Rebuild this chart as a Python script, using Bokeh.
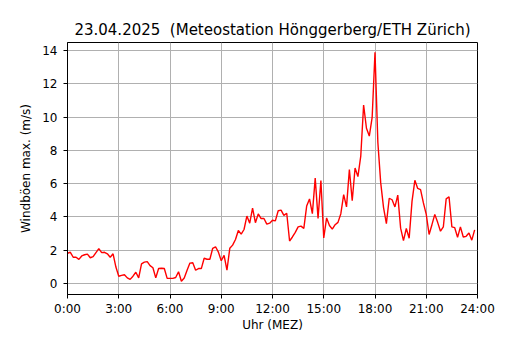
from bokeh.plotting import figure
from bokeh.models import Range1d, FixedTicker
from bokeh.embed import file_html
from bokeh.resources import INLINE

title_text = "23.04.2025\u00a0 (Meteostation Hönggerberg/ETH Zürich)"
x_label = "Uhr (MEZ)"
y_label = "Windböen max. (m/s)"

# 10-minute gust maxima (m/s), 00:00 .. 23:50
gusts = [
    1.81, 1.87, 1.57, 1.57, 1.44, 1.65, 1.72, 1.76, 1.54, 1.61, 1.85, 2.09,
    1.85, 1.87, 1.78, 1.57, 1.78, 0.98, 0.43, 0.48, 0.52, 0.33, 0.24, 0.43,
    0.67, 0.33, 1.17, 1.28, 1.31, 1.07, 0.94, 0.33, 0.89, 0.91, 0.89, 0.30,
    0.30, 0.30, 0.35, 0.70, 0.13, 0.32, 0.79, 1.22, 1.24, 0.79, 0.89, 0.89,
    1.51, 1.45, 1.45, 2.11, 2.20, 1.88, 1.36, 1.68, 0.79, 2.11, 2.30, 2.64,
    3.18, 2.96, 3.24, 4.05, 3.62, 4.52, 3.65, 4.18, 3.90, 3.90, 3.56, 3.62,
    3.80, 3.76, 4.37, 4.41, 4.09, 4.22, 2.55, 2.79, 3.07, 3.40, 3.44, 3.31,
    4.65, 5.08, 4.19, 6.33, 3.91, 6.18, 2.73, 3.94, 3.48, 3.26, 3.53, 3.67,
    4.19, 5.34, 4.60, 6.85, 4.97, 6.94, 6.42, 7.65, 10.73, 9.33, 8.86, 9.98,
    13.90, 8.49, 6.06, 4.56, 3.59, 5.12, 5.03, 4.60, 5.31, 3.32, 2.57, 3.30,
    2.71, 4.93, 6.20, 5.71, 5.64, 4.84, 4.15, 2.94, 3.53, 4.15, 3.67, 3.14,
    3.40, 5.08, 5.21, 3.40, 3.35, 2.77, 3.40, 2.79, 2.83, 3.03, 2.60, 3.22,
]
step_minutes = 10
hours = [i * step_minutes / 60 for i in range(len(gusts))]

x_ticks = [0, 3, 6, 9, 12, 15, 18, 21, 24]
x_tick_labels = ["0:00", "3:00", "6:00", "9:00", "12:00", "15:00", "18:00", "21:00", "24:00"]
y_ticks = [0, 2, 4, 6, 8, 10, 12, 14]

FONT = "DejaVu Sans"

p = figure(width=514, height=334, output_backend="svg", toolbar_location=None,
           x_range=Range1d(0, 24), y_range=Range1d(-0.67, 14.49),
           min_border_left=67, min_border_right=37, min_border_top=42,
           min_border_bottom=20)

p.line(hours, gusts, line_color="red", line_width=1.4)

p.title.text = title_text
p.title.align = "center"
p.title.text_font = FONT
p.title.text_font_size = "15px"
p.title.text_font_style = "normal"
p.title.text_color = "black"
p.title.standoff = 8

p.outline_line_color = "black"
p.outline_line_width = 1
p.outline_line_alpha = 1

for ax in (p.xaxis[0], p.yaxis[0]):
    ax.axis_line_color = "black"
    ax.major_tick_line_color = "black"
    ax.major_tick_out = 4
    ax.major_tick_in = 0
    ax.minor_tick_line_color = None
    ax.major_label_text_font = FONT
    ax.major_label_text_font_size = "12px"
    ax.major_label_text_color = "black"
    ax.axis_label_text_font = FONT
    ax.axis_label_text_font_size = "12px"
    ax.axis_label_text_font_style = "normal"
    ax.axis_label_text_color = "black"

p.xaxis.ticker = FixedTicker(ticks=x_ticks)
p.xaxis.major_label_overrides = {t: l for t, l in zip(x_ticks, x_tick_labels)}
p.xaxis.axis_label = x_label
p.xaxis.major_label_standoff = 3
p.xaxis.axis_label_standoff = -1

p.yaxis.ticker = FixedTicker(ticks=y_ticks)
p.yaxis.axis_label = y_label
p.yaxis.major_label_standoff = 6
p.yaxis.axis_label_standoff = 6

p.grid.grid_line_color = "#b0b0b0"
p.grid.grid_line_width = 1
p.xgrid.ticker = FixedTicker(ticks=x_ticks)
p.ygrid.ticker = FixedTicker(ticks=y_ticks)

p.background_fill_color = "white"
p.border_fill_color = "white"

open("out.html", "w").write(file_html(p, INLINE))
